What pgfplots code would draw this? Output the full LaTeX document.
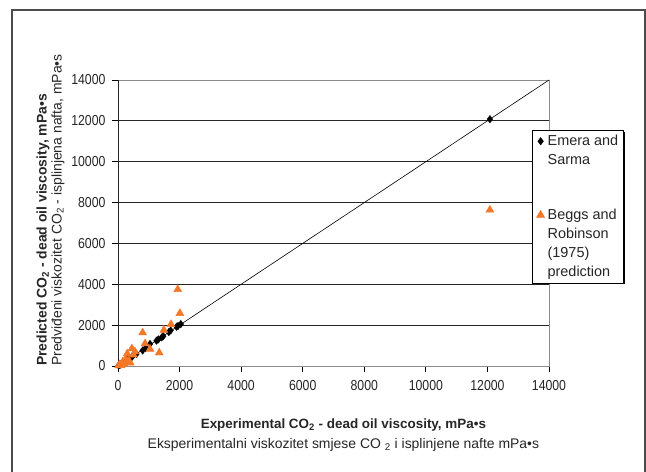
\documentclass[border=0pt]{standalone}
\usepackage{fontspec}
\setmainfont{Liberation Sans}
\newfontfamily\tickfont[FakeStretch=0.85]{Liberation Sans}
\usepackage{pgfplots}
\pgfplotsset{compat=1.18}
\usetikzlibrary{shadows}
\definecolor{orng}{RGB}{245,120,40}

\begin{document}
\begin{tikzpicture}[x=1bp,y=1bp]
\fill[white] (0,0) rectangle (646,472);
\useasboundingbox (0,0) rectangle (646,472);
\draw[line width=1.5bp, black!70] (12,-5) -- (12,462) -- (645,462) -- (645,-5);
\begin{axis}[
  at={(118bp,106bp)}, anchor=south west,
  scale only axis, width=431bp, height=286bp,
  xmin=0, xmax=14000, ymin=0, ymax=14000,
  xtick={0,2000,...,14000}, ytick={0,2000,...,14000},
  scaled ticks=false,
  /pgf/number format/assume math mode=true,
  /pgf/number format/1000 sep={},
  ticklabel style={font=\tickfont\fontsize{14.5}{14.5}\selectfont, text=black!85},
  xticklabel style={yshift=-5bp},
  yticklabel style={xshift=-3bp},
  xtick pos=bottom, ytick pos=left,
  tick align=outside, major tick length=6bp,
  tick style={black, line width=0.8bp},
  axis line style={draw=black!45, line width=0.8bp},
  extra y ticks={2000,4000,6000,8000,10000,12000},
  extra y tick labels={},
  extra y tick style={ymajorgrids=true, major tick length=0pt},
  grid style={black!85, line width=0.9bp},
  xlabel={{\fontsize{13.5}{20}\selectfont\textbf{Experimental CO\textsubscript{2} - dead oil viscosity, mPa•s}}\\{\fontsize{14}{20}\selectfont Eksperimentalni viskozitet smjese CO \textsubscript{2} i isplinjene nafte mPa•s}},
  xlabel style={at={(axis description cs:0.523,-0.2415)}, anchor=center, align=center, font=\fontsize{14}{20}\selectfont, text=black!85},
  ylabel={\textbf{Predicted CO\textsubscript{2} - dead oil viscosity, mPa•s}\\Predviđeni viskozitet CO\textsubscript{2} - isplinjena nafta, mPa•s},
  ylabel style={at={(axis description cs:-0.1566,0.545)}, anchor=center, align=left, font=\fontsize{14}{15}\selectfont, text=black!85},
  legend style={at={(0.9606,0.825)}, anchor=north west, draw=black, line width=0.6bp, fill=white,
    font=\fontsize{14.5}{19}\selectfont, row sep=39bp, column sep=0bp,
    inner xsep=2bp, inner ysep=3bp,
    nodes={inner xsep=3bp}, cells={align=left}, text=black!85,
    drop shadow={shadow xshift=1.5bp, shadow yshift=-1.5bp, fill=black, opacity=1}},
  legend cell align=left,
  legend image code/.code={\path (-6bp,0bp); \draw[#1] plot coordinates {(0bp,0bp)};},
]
\addplot[black, line width=0.6bp, forget plot] coordinates {(0,0) (14000,14000)};
\addplot[only marks, mark=diamond*, mark size=3.8bp, mark options={fill=black, draw=black, line width=0.3bp},
  legend image post style={yshift=9.5bp}] coordinates {
(20,30) (50,60) (80,70) (100,110) (150,140) (200,190) (250,250) (300,280) (350,360)
(400,380) (450,440) (500,520) (600,590) (800,760) (900,880) (1040,1080) (1250,1240)
(1310,1300) (1420,1400) (1470,1460) (1650,1660) (1710,1740) (1900,1920) (1950,1960)
(2040,2050) (12080,12080)};
\addlegendentry{Emera and\\Sarma}
\addplot[only marks, mark=triangle*, mark size=4.6bp, color=orng,
  legend image post style={yshift=28.5bp}] coordinates {
(20,20) (60,80) (100,30) (150,200) (200,100) (250,350) (300,600) (350,250) (400,150)
(450,850) (500,550) (550,700) (800,1630) (880,1100) (1040,830) (1340,650) (1490,1760)
(1720,2040) (1940,3750) (2010,2580) (12080,7640)};
\addlegendentry{Beggs and\\Robinson\\(1975)\\prediction}
\draw[black!85, line width=0.9bp] (rel axis cs:0,1) -- (rel axis cs:0,0) -- (rel axis cs:1,0);
\end{axis}
\end{tikzpicture}
\end{document}
